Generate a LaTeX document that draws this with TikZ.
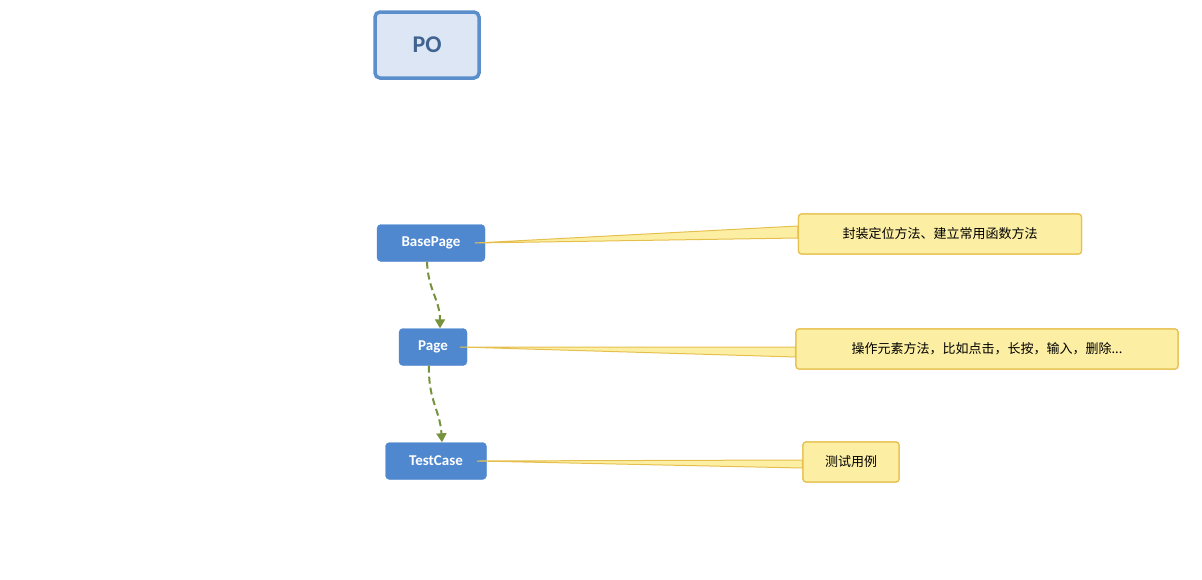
\documentclass[tikz,border=0pt]{standalone}
\usepackage{fontspec}
\setmainfont{Carlito}
\newfontfamily\cjk{Noto Sans CJK SC}
\usetikzlibrary{arrows.meta}
\definecolor{nblue}{HTML}{4F88CF}
\definecolor{pofill}{HTML}{DCE6F4}
\definecolor{poedge}{HTML}{5B8FCC}
\definecolor{cfill}{HTML}{FCEFA4}
\definecolor{cedge}{HTML}{E6C04E}
\definecolor{agreen}{HTML}{76923C}
\tikzset{
  x=1pt,y=-1pt,
  blk/.style={fill=nblue,draw=nblue,rounded corners=4pt,text=white,font=\bfseries\fontsize{15}{18}\selectfont,inner sep=0pt,anchor=center},
  note/.style={fill=cfill,draw=cedge,line width=1.2pt,rounded corners=3pt,font=\cjk\fontsize{13}{16}\selectfont,inner sep=0pt,anchor=center},
  wedge/.style={fill=cfill,draw=cedge,line width=1pt},
  dep/.style={draw=agreen,line width=2pt,dash pattern=on 7pt off 4pt,-{Triangle[length=9pt,width=10pt]}}
}
\begin{document}
\begin{tikzpicture}
\useasboundingbox (0,0) rectangle (1202,579);
\node[fill=pofill,draw=poedge,line width=3.5pt,rounded corners=5pt,minimum width=104pt,minimum height=66pt,inner sep=0pt,text=poedge!70!black,font=\bfseries\fontsize{24}{28}\selectfont] (po) at (427,45) {PO};
\node[blk,minimum width=108pt,minimum height=37pt] (bp) at (431,243) {BasePage};
\node[blk,minimum width=68pt,minimum height=37pt] (pg) at (433,347) {Page};
\node[blk,minimum width=101pt,minimum height=37pt] (tc) at (436,461) {TestCase};
\coordinate (bpe) at (475,243);
\coordinate (pge) at (460,347);
\coordinate (tce) at (477,461);
\node[note,minimum width=283pt,minimum height=40pt] (n1) at (940,234) {封装定位方法、建立常用函数方法};
\node[note,minimum width=382pt,minimum height=40pt] (n2) at (987,349) {操作元素方法，比如点击，长按，输入，删除...};
\node[note,minimum width=96pt,minimum height=40pt] (n3) at (851,462) {测试用例};
\draw[wedge] (bpe) -- ([yshift=-4pt]n1.west) -- ([yshift=8pt]n1.west) -- cycle;
\draw[wedge] (pge) -- ([yshift=-8pt]n2.west) -- ([yshift=2pt]n2.west) -- cycle;
\draw[wedge] (tce) -- ([yshift=-6pt]n3.west) -- ([yshift=2pt]n3.west) -- cycle;
\node[note,minimum width=283pt,minimum height=40pt] at (940,234) {封装定位方法、建立常用函数方法};
\node[note,minimum width=382pt,minimum height=40pt] at (987,349) {操作元素方法，比如点击，长按，输入，删除...};
\node[note,minimum width=96pt,minimum height=40pt] at (851,462) {测试用例};
\draw[dep] ([xshift=-4pt]bp.south) .. controls (428,290) and (440,300) .. ([xshift=7pt]pg.north);
\draw[dep] ([xshift=-4pt]pg.south) .. controls (428,400) and (440,410) .. ([xshift=6pt]tc.north);
\end{tikzpicture}
\end{document}
